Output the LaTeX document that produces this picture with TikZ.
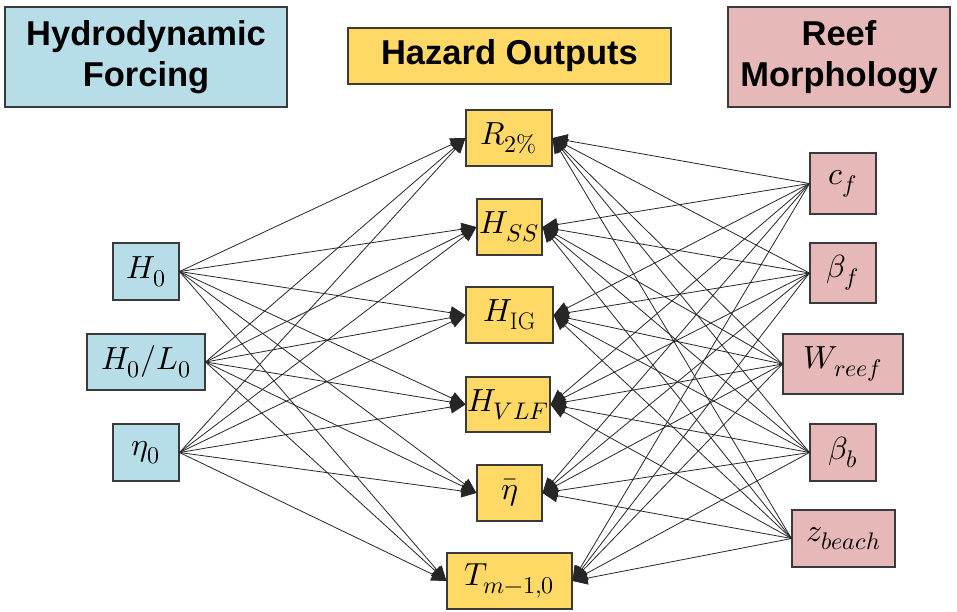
\documentclass[tikz,border=0pt]{standalone}
\usepackage{fontspec}
\usepackage{unicode-math}
\setmathfont{Latin Modern Math}
\newfontfamily\hdrfont{Liberation Sans}
\DeclareMathSizes{32}{32}{24}{18}
\usetikzlibrary{arrows.meta}
\definecolor{bluefill}{HTML}{B7DEE8}
\definecolor{yellowfill}{HTML}{FFD966}
\definecolor{pinkfill}{HTML}{E6B9B8}
\definecolor{edgegray}{HTML}{3A3A3A}
\begin{document}
\begin{tikzpicture}[x=1pt,y=-1pt,
  box/.style={draw=edgegray, line width=1.1pt, inner sep=0pt, align=center},
  hdr/.style={box, font=\hdrfont\fontsize{34.5}{41}\selectfont\bfseries},
  var/.style={box, font=\fontsize{32}{38}\selectfont},
  bluebox/.style={fill=bluefill},
  yellowbox/.style={fill=yellowfill},
  pinkbox/.style={fill=pinkfill},
  arr/.style={draw=black!85, line width=0.8pt, -{Triangle[length=15pt,width=13pt]}}]
\useasboundingbox (0,0) rectangle (957,611);
% headers
\node[hdr, bluebox, minimum width=282pt, minimum height=100pt] (hf) at (146,57) {Hydrodynamic\\Forcing};
\node[hdr, yellowbox, minimum width=323pt, minimum height=56pt] (ho) at (509.5,56) {Hazard Outputs};
\node[hdr, pinkbox, minimum width=222pt, minimum height=100pt] (rm) at (839,57) {Reef\\Morphology};
% inputs
\node[var, bluebox, minimum width=66pt, minimum height=57pt] (H0) at (146,271.5) {$H_0$};
\node[var, bluebox, minimum width=118pt, minimum height=56pt] (HL) at (146,362) {$H_0/L_0$};
\node[var, bluebox, minimum width=66pt, minimum height=57pt] (eta0) at (146,452.5) {$\eta_0$};
% outputs
\node[var, yellowbox, minimum width=86pt, minimum height=56pt] (R) at (509,138) {$R_{2\%}$};
\node[var, yellowbox, minimum width=65pt, minimum height=56pt] (HSS) at (509.5,227) {$H_{SS}$};
\node[var, yellowbox, minimum width=87pt, minimum height=56pt] (HIG) at (509.5,315) {$H_{\mathrm{IG}}$};
\node[var, yellowbox, minimum width=84pt, minimum height=55pt] (HVLF) at (508,404.5) {$H_{VLF}$};
\node[var, yellowbox, minimum width=65pt, minimum height=56pt] (etabar) at (509.5,493) {$\bar{\eta}$};
\node[var, yellowbox, minimum width=125pt, minimum height=56pt] (T) at (509.5,581) {$T_{m-1,0}$};
% reef
\node[var, pinkbox, minimum width=66pt, minimum height=61pt] (cf) at (843,183.5) {$c_f$};
\node[var, pinkbox, minimum width=66pt, minimum height=60pt] (bf) at (843,273) {$\beta_f$};
\node[var, pinkbox, minimum width=120pt, minimum height=60pt] (W) at (843,364) {$W_{reef}$};
\node[var, pinkbox, minimum width=66pt, minimum height=57pt] (bb) at (843,452.5) {$\beta_b$};
\node[var, pinkbox, minimum width=103pt, minimum height=57pt] (z) at (843.5,538.5) {$z_{beach}$};
% connectors
\foreach \s in {H0,HL,eta0}
  \foreach \t in {R,HSS,HIG,HVLF,etabar,T}
    \draw[arr] (\s.east) -- (\t.west);
\foreach \s in {cf,bf,W,bb,z}
  \foreach \t in {R,HSS,HIG,HVLF,etabar,T}
    \draw[arr] (\s.west) -- (\t.east);
\end{tikzpicture}
\end{document}
